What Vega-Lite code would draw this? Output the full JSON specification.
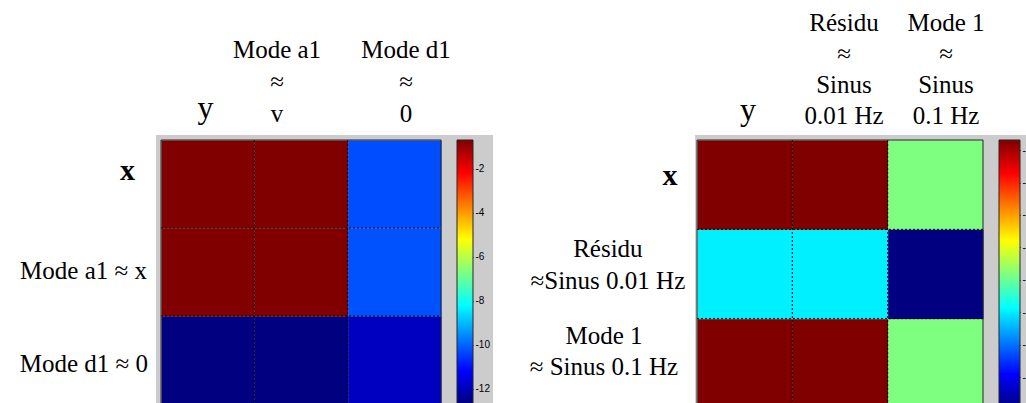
{
  "$schema": "https://vega.github.io/schema/vega-lite/v6.json",
  "padding": {"left": 19, "top": 11, "right": 0, "bottom": 0},
  "background": "white",
  "config": {
    "view": {"stroke": null},
    "font": "Liberation Serif",
    "axis": {"labelFont": "Liberation Sans", "labelFontSize": 10, "labelColor": "black", "tickColor": "black", "title": null}
  },
  "datasets": {
    "gauche": [
      {"ligne": 0, "colonne": 0, "valeur": -0.7},
      {"ligne": 0, "colonne": 1, "valeur": -0.7},
      {"ligne": 0, "colonne": 2, "valeur": -10.3},
      {"ligne": 1, "colonne": 0, "valeur": -0.7},
      {"ligne": 1, "colonne": 1, "valeur": -0.7},
      {"ligne": 1, "colonne": 2, "valeur": -10.25},
      {"ligne": 2, "colonne": 0, "valeur": -12.7},
      {"ligne": 2, "colonne": 1, "valeur": -12.7},
      {"ligne": 2, "colonne": 2, "valeur": -11.95}
    ],
    "droite": [
      {"ligne": 0, "colonne": 0, "valeur": -1.38},
      {"ligne": 0, "colonne": 1, "valeur": -1.38},
      {"ligne": 0, "colonne": 2, "valeur": -9.64},
      {"ligne": 1, "colonne": 0, "valeur": -11.95},
      {"ligne": 1, "colonne": 1, "valeur": -11.95},
      {"ligne": 1, "colonne": 2, "valeur": -17.9},
      {"ligne": 2, "colonne": 0, "valeur": -1.38},
      {"ligne": 2, "colonne": 1, "valeur": -1.38},
      {"ligne": 2, "colonne": 2, "valeur": -9.64}
    ],
    "vide": [{}]
  },
  "resolve": {"scale": {"color": "independent", "x": "independent", "y": "independent"}},
  "bounds": "flush",
  "spacing": 16,
  "hconcat": [
    {
      "width": 280,
      "height": 264,
      "data": {"name": "gauche"},
      "layer": [
        {
          "data": {"name": "vide"},
          "mark": {"type": "rect", "fill": "#cccccc"},
          "encoding": {
            "x": {"datum": -0.054, "type": "quantitative"},
            "x2": {"datum": 3.557},
            "y": {"datum": -0.057, "type": "quantitative"},
            "y2": {"datum": 3.4}
          }
        },
        {
          "mark": {"type": "rect"},
          "encoding": {
            "x": {"field": "colonne", "type": "quantitative", "bin": {"binned": true, "step": 1},
                  "scale": {"domain": [0, 3], "nice": false, "zero": false}, "axis": null},
            "y": {"field": "ligne", "type": "quantitative", "bin": {"binned": true, "step": 1},
                  "scale": {"domain": [0, 3], "nice": false, "zero": false, "reverse": true}, "axis": null},
            "color": {"field": "valeur", "type": "quantitative", "legend": null,
                      "scale": {"domain": [-12.7, -11.2, -8.2, -5.2, -2.2, -0.7], "range": ["#000080", "#0000ff", "#00ffff", "#ffff00", "#ff0000", "#800000"], "interpolate": "rgb"}}
          }
        },
        {"data": {"name": "vide"}, "mark": {"type": "rule", "color": "black", "strokeDash": [2, 2]},
         "encoding": {"x": {"datum": 1, "type": "quantitative"}, "y": {"datum": 0, "type": "quantitative"}, "y2": {"datum": 3}}},
        {"data": {"name": "vide"}, "mark": {"type": "rule", "color": "black", "strokeDash": [2, 2]},
         "encoding": {"x": {"datum": 2, "type": "quantitative"}, "y": {"datum": 0, "type": "quantitative"}, "y2": {"datum": 3}}},
        {"data": {"name": "vide"}, "mark": {"type": "rule", "color": "black", "strokeDash": [2, 2]},
         "encoding": {"y": {"datum": 1, "type": "quantitative"}, "x": {"datum": 0, "type": "quantitative"}, "x2": {"datum": 3}}},
        {"data": {"name": "vide"}, "mark": {"type": "rule", "color": "black", "strokeDash": [2, 2]},
         "encoding": {"y": {"datum": 2, "type": "quantitative"}, "x": {"datum": 0, "type": "quantitative"}, "x2": {"datum": 3}}},
        {
          "data": {"name": "vide"},
          "mark": {"type": "rect", "filled": false, "color": "#262626", "strokeWidth": 1},
          "encoding": {
            "x": {"datum": 0, "type": "quantitative"}, "x2": {"datum": 3},
            "y": {"datum": 0, "type": "quantitative"}, "y2": {"datum": 3}
          }
        },
        {
          "data": {"name": "vide"},
          "mark": {"type": "text", "fontSize": 32, "align": "center", "baseline": "alphabetic", "color": "black"},
          "encoding": {"x": {"datum": 0.477, "type": "quantitative"}, "y": {"datum": -0.25, "type": "quantitative"}, "text": {"value": "y"}}
        },
        {
          "data": {"name": "vide"},
          "mark": {"type": "text", "fontSize": 25, "align": "center", "baseline": "alphabetic", "lineBreak": "\n", "lineHeight": 32, "color": "black"},
          "encoding": {"x": {"datum": 1.243, "type": "quantitative"}, "y": {"datum": -0.932, "type": "quantitative"}, "text": {"value": "Mode a1\n≈\nv"}}
        },
        {
          "data": {"name": "vide"},
          "mark": {"type": "text", "fontSize": 25, "align": "center", "baseline": "alphabetic", "lineBreak": "\n", "lineHeight": 32, "color": "black"},
          "encoding": {"x": {"datum": 2.625, "type": "quantitative"}, "y": {"datum": -0.932, "type": "quantitative"}, "text": {"value": "Mode d1\n≈\n0"}}
        },
        {
          "data": {"name": "vide"},
          "mark": {"type": "text", "fontSize": 30, "fontWeight": "bold", "align": "center", "baseline": "alphabetic", "color": "black"},
          "encoding": {"x": {"datum": -0.359, "type": "quantitative"}, "y": {"datum": 0.4545, "type": "quantitative"}, "text": {"value": "x"}}
        },
        {
          "data": {"name": "vide"},
          "mark": {"type": "text", "fontSize": 25, "align": "right", "baseline": "alphabetic", "color": "black"},
          "encoding": {"x": {"datum": -0.15, "type": "quantitative"}, "y": {"datum": 1.58, "type": "quantitative"}, "text": {"value": "Mode a1 ≈ x"}}
        },
        {
          "data": {"name": "vide"},
          "mark": {"type": "text", "fontSize": 25, "align": "right", "baseline": "alphabetic", "color": "black"},
          "encoding": {"x": {"datum": -0.139, "type": "quantitative"}, "y": {"datum": 2.636, "type": "quantitative"}, "text": {"value": "Mode d1 ≈ 0"}}
        }
      ]
    },
    {
      "width": 16,
      "height": 264,
      "data": {"name": "gauche"},
      "mark": {"type": "rect", "stroke": "#262626", "strokeWidth": 1, "fill": {"gradient": "linear", "x1": 0, "y1": 1, "x2": 0, "y2": 0, "stops": [
        {"offset": 0, "color": "#000080"}, {"offset": 0.125, "color": "#0000ff"}, {"offset": 0.375, "color": "#00ffff"},
        {"offset": 0.625, "color": "#ffff00"}, {"offset": 0.875, "color": "#ff0000"}, {"offset": 1, "color": "#800000"}]}},
      "encoding": {
        "x": {"datum": 0, "type": "quantitative", "scale": {"domain": [0, 1]}, "axis": null},
        "x2": {"datum": 1},
        "y": {"aggregate": "min", "field": "valeur", "type": "quantitative",
              "scale": {"domain": [-12.7, -0.7], "nice": false, "zero": false},
              "axis": {"orient": "right", "values": [-12, -10, -8, -6, -4, -2], "tickSize": -3, "labelPadding": 5, "domain": false, "labelExpr": "'-' + abs(datum.value)"}},
        "y2": {"aggregate": "max", "field": "valeur"}
      }
    },
    {
      "width": 494,
      "height": 268,
      "data": {"name": "droite"},
      "layer": [
        {
          "data": {"name": "vide"},
          "mark": {"type": "rect", "fill": "#cccccc"},
          "encoding": {
            "x": {"datum": -0.02, "type": "quantitative"},
            "x2": {"datum": 3.6},
            "y": {"datum": -0.056, "type": "quantitative"},
            "y2": {"datum": 3.4}
          }
        },
        {
          "mark": {"type": "rect"},
          "encoding": {
            "x": {"field": "colonne", "type": "quantitative", "bin": {"binned": true, "step": 1},
                  "scale": {"domain": [-2.182, 3], "nice": false, "zero": false}, "axis": null},
            "y": {"field": "ligne", "type": "quantitative", "bin": {"binned": true, "step": 1},
                  "scale": {"domain": [0, 3], "nice": false, "zero": false, "reverse": true}, "axis": null},
            "color": {"field": "valeur", "type": "quantitative", "legend": null,
                      "scale": {"domain": [-17.9, -15.835, -11.705, -7.575, -3.445, -1.38], "range": ["#000080", "#0000ff", "#00ffff", "#ffff00", "#ff0000", "#800000"], "interpolate": "rgb"}}
          }
        },
        {"data": {"name": "vide"}, "mark": {"type": "rule", "color": "black", "strokeDash": [2, 2]},
         "encoding": {"x": {"datum": 1, "type": "quantitative"}, "y": {"datum": 0, "type": "quantitative"}, "y2": {"datum": 3}}},
        {"data": {"name": "vide"}, "mark": {"type": "rule", "color": "black", "strokeDash": [2, 2]},
         "encoding": {"x": {"datum": 2, "type": "quantitative"}, "y": {"datum": 0, "type": "quantitative"}, "y2": {"datum": 3}}},
        {"data": {"name": "vide"}, "mark": {"type": "rule", "color": "black", "strokeDash": [2, 2]},
         "encoding": {"y": {"datum": 1, "type": "quantitative"}, "x": {"datum": 0, "type": "quantitative"}, "x2": {"datum": 3}}},
        {"data": {"name": "vide"}, "mark": {"type": "rule", "color": "black", "strokeDash": [2, 2]},
         "encoding": {"y": {"datum": 2, "type": "quantitative"}, "x": {"datum": 0, "type": "quantitative"}, "x2": {"datum": 3}}},
        {
          "data": {"name": "vide"},
          "mark": {"type": "rect", "filled": false, "color": "#262626", "strokeWidth": 1},
          "encoding": {
            "x": {"datum": 0, "type": "quantitative"}, "x2": {"datum": 3},
            "y": {"datum": 0, "type": "quantitative"}, "y2": {"datum": 3}
          }
        },
        {
          "data": {"name": "vide"},
          "mark": {"type": "text", "fontSize": 32, "align": "center", "baseline": "alphabetic", "color": "black"},
          "encoding": {"x": {"datum": 0.535, "type": "quantitative"}, "y": {"datum": -0.224, "type": "quantitative"}, "text": {"value": "y"}}
        },
        {
          "data": {"name": "vide"},
          "mark": {"type": "text", "fontSize": 25, "align": "center", "baseline": "alphabetic", "lineBreak": "\n", "lineHeight": 31, "color": "black"},
          "encoding": {"x": {"datum": 1.542, "type": "quantitative"}, "y": {"datum": -1.22, "type": "quantitative"}, "text": {"value": "Résidu\n≈\nSinus\n0.01 Hz"}}
        },
        {
          "data": {"name": "vide"},
          "mark": {"type": "text", "fontSize": 25, "align": "center", "baseline": "alphabetic", "lineBreak": "\n", "lineHeight": 31, "color": "black"},
          "encoding": {"x": {"datum": 2.612, "type": "quantitative"}, "y": {"datum": -1.22, "type": "quantitative"}, "text": {"value": "Mode 1\n≈\nSinus\n0.1 Hz"}}
        },
        {
          "data": {"name": "vide"},
          "mark": {"type": "text", "fontSize": 30, "fontWeight": "bold", "align": "center", "baseline": "alphabetic", "color": "black"},
          "encoding": {"x": {"datum": -0.283, "type": "quantitative"}, "y": {"datum": 0.504, "type": "quantitative"}, "text": {"value": "x"}}
        },
        {
          "data": {"name": "vide"},
          "mark": {"type": "text", "fontSize": 25, "align": "center", "baseline": "alphabetic", "lineBreak": "\n", "lineHeight": 32, "color": "black"},
          "encoding": {"x": {"datum": -0.935, "type": "quantitative"}, "y": {"datum": 1.31, "type": "quantitative"}, "text": {"value": "Résidu\n≈Sinus 0.01 Hz"}}
        },
        {
          "data": {"name": "vide"},
          "mark": {"type": "text", "fontSize": 25, "align": "center", "baseline": "alphabetic", "lineBreak": "\n", "lineHeight": 31, "color": "black"},
          "encoding": {"x": {"datum": -0.976, "type": "quantitative"}, "y": {"datum": 2.284, "type": "quantitative"}, "text": {"value": "Mode 1\n≈ Sinus 0.1 Hz"}}
        }
      ]
    },
    {
      "width": 21,
      "height": 268,
      "data": {"name": "droite"},
      "mark": {"type": "rect", "stroke": "#262626", "strokeWidth": 1, "fill": {"gradient": "linear", "x1": 0, "y1": 1, "x2": 0, "y2": 0, "stops": [
        {"offset": 0, "color": "#000080"}, {"offset": 0.125, "color": "#0000ff"}, {"offset": 0.375, "color": "#00ffff"},
        {"offset": 0.625, "color": "#ffff00"}, {"offset": 0.875, "color": "#ff0000"}, {"offset": 1, "color": "#800000"}]}},
      "encoding": {
        "x": {"datum": 0, "type": "quantitative", "scale": {"domain": [0, 1]}, "axis": null},
        "x2": {"datum": 1},
        "y": {"aggregate": "min", "field": "valeur", "type": "quantitative",
              "scale": {"domain": [-17.9, -1.38], "nice": false, "zero": false},
              "axis": {"orient": "right", "values": [-16, -14, -12, -10, -8, -6, -4, -2], "tickSize": -3, "labelPadding": 5, "domain": false, "labelExpr": "'-' + abs(datum.value)"}},
        "y2": {"aggregate": "max", "field": "valeur"}
      }
    }
  ]
}
